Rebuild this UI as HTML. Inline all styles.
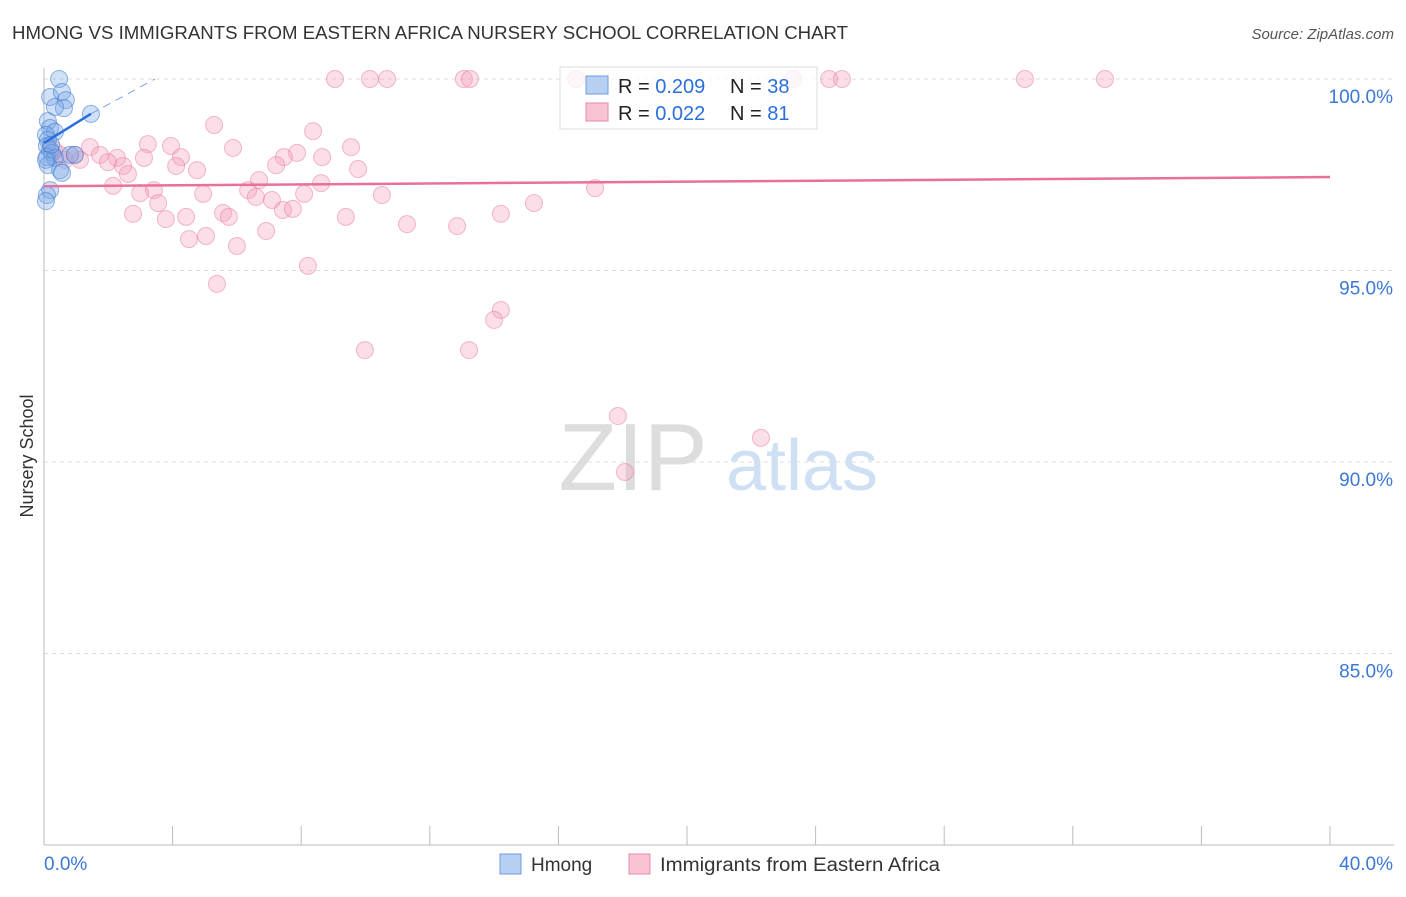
<!DOCTYPE html>
<html><head><meta charset="utf-8"><style>
body{margin:0;background:#fff;font-family:"Liberation Sans",sans-serif}
svg text{font-family:"Liberation Sans",sans-serif}
</style></head><body>
<svg id="c" width="1406" height="892">
<text x="12" y="39" font-size="18" fill="#333" textLength="836" lengthAdjust="spacingAndGlyphs">HMONG VS IMMIGRANTS FROM EASTERN AFRICA NURSERY SCHOOL CORRELATION CHART</text>
<text x="1394" y="39" font-size="15" fill="#555" text-anchor="end" font-style="italic">Source: ZipAtlas.com</text>
<text transform="translate(33,456) rotate(-90)" font-size="18" fill="#333" text-anchor="middle">Nursery School</text>
<g><text x="633" y="490" font-size="96" fill="#ddd" font-family="Liberation Serif" text-anchor="middle">ZIP</text><text x="802" y="490" font-size="72" fill="#cfe0f4" text-anchor="middle">atlas</text></g>
<g id="grid"></g><g id="axes"></g><g id="pts"></g><g id="trend"></g>
<g>
<rect x="560" y="67" width="257" height="62" fill="rgba(255,255,255,0.75)" stroke="#ddd"/>
<rect x="586" y="76" width="22" height="18" fill="#b7d0f2" stroke="#6d9be0"/>
<rect x="586" y="103" width="22" height="18" fill="#f8c3d2" stroke="#e88aa8"/>
<text x="618" y="93" font-size="20" fill="#222">R = <tspan fill="#2a6fdb">0.209</tspan></text>
<text x="730" y="93" font-size="20" fill="#222">N = <tspan fill="#2a6fdb">38</tspan></text>
<text x="618" y="120" font-size="20" fill="#222">R = <tspan fill="#2a6fdb">0.022</tspan></text>
<text x="730" y="120" font-size="20" fill="#222">N = <tspan fill="#2a6fdb">81</tspan></text>
</g>
<g>
<rect x="500" y="854" width="21" height="20" fill="#b7d0f2" stroke="#6d9be0"/>
<text x="531" y="871" font-size="19" fill="#333">Hmong</text>
<rect x="629" y="854" width="21" height="20" fill="#f8c3d2" stroke="#e88aa8"/>
<text x="660" y="871" font-size="19" fill="#333" textLength="280" lengthAdjust="spacingAndGlyphs">Immigrants from Eastern Africa</text>
</g>
</svg>
<script>
const yTicks=[100,95,90,85];
const xTickLabels=["0.0%","40.0%"];
const pinkX=[9.05,10.14,10.67,13.06,13.25,16.55,23.3,24.42,24.82,30.51,33.0,5.29,8.37,3.23,3.95,5.88,9.55,1.43,1.74,2.27,3.11,4.26,7.87,7.46,8.65,0.31,0.5,0.65,0.96,1.12,1.99,2.46,4.11,4.76,7.22,9.77,2.61,6.69,8.62,2.15,3.42,2.99,4.95,6.35,8.09,10.51,17.14,6.59,7.09,3.55,2.77,3.79,4.42,5.57,5.75,7.43,7.74,9.39,14.21,15.24,11.29,12.85,6.91,5.04,4.51,6.0,8.21,5.38,14.21,14.0,9.98,13.22,17.85,22.3,18.07];
const pinkY=[100,100,100,100,100,100,100,100,100,100,100,98.8,98.64,98.3,98.25,98.2,98.22,98.22,98.02,97.94,97.94,97.96,98.07,97.96,97.96,98.15,98.02,97.89,98.02,97.89,97.83,97.73,97.73,97.62,97.75,97.65,97.52,97.36,97.28,97.21,97.1,97.02,97.0,97.1,97.0,96.97,97.15,96.92,96.84,96.76,96.48,96.34,96.4,96.5,96.4,96.58,96.61,96.4,96.48,96.76,96.21,96.16,96.03,95.9,95.82,95.64,95.12,94.65,93.97,93.71,92.92,92.92,91.2,90.63,89.74];
const blueX=[0.47,0.19,0.56,0.68,0.62,0.34,1.46,0.12,0.19,0.34,0.06,0.12,0.09,0.19,0.25,0.09,0.34,0.81,0.96,0.12,0.5,0.56,0.19,0.09,0.06,0.22,0.06];
const blueY=[100,99.53,99.66,99.45,99.24,99.27,99.09,98.9,98.72,98.62,98.54,98.41,98.25,98.15,98.07,97.96,97.94,98.02,98.02,97.75,97.62,97.55,97.1,96.97,96.81,98.28,97.89];
const pinkTrend=[[0,97.2],[40,97.44]];
const blueTrend=[[0,98.33],[1.46,99.09]];
const blueDash=[[1.46,99.09],[3.45,100]];
const X=v=>44+v/40*1286, Y=v=>79+(100-v)*38.3;
const NS="http://www.w3.org/2000/svg";
function mk(p,t,a){const e=document.createElementNS(NS,t);for(const k in a)e.setAttribute(k,a[k]);p.appendChild(e);return e;}
const grid=document.getElementById('grid'),axes=document.getElementById('axes'),pts=document.getElementById('pts'),tr=document.getElementById('trend');
yTicks.forEach(v=>{const l=mk(grid,'line',{x1:44,x2:1394,y1:Y(v),y2:Y(v),stroke:'#ddd','stroke-dasharray':'4,4'});


const t=mk(axes,'text',{x:1393,y:Y(v)+24,'font-size':19,fill:'#3a78d6','text-anchor':'end'});t.textContent=v.toFixed(1)+'%';

});
const ax=mk(axes,'line',{x1:44,x2:44,y1:68,y2:845,stroke:'#bbb'});


const bx=mk(axes,'line',{x1:44,x2:1394,y1:845,y2:845,stroke:'#bbb'});


for(let i=0;i<=10;i++){const t=mk(axes,'line',{x1:X(i*4),x2:X(i*4),y1:826,y2:845,stroke:'#bbb'});

}
const l0=mk(axes,'text',{x:44,y:870,'font-size':19,fill:'#3a78d6'});l0.textContent=xTickLabels[0];


const l1=mk(axes,'text',{x:1393,y:870,'font-size':19,fill:'#3a78d6','text-anchor':'end'});l1.textContent=xTickLabels[1];


pinkX.forEach((x,i)=>{const c=mk(pts,'circle',{cx:X(x),cy:Y(pinkY[i]),r:8.5,fill:'rgba(244,160,188,0.35)',stroke:'rgba(232,120,158,0.5)'});

});
blueX.forEach((x,i)=>{const c=mk(pts,'circle',{cx:X(x),cy:Y(blueY[i]),r:8.5,fill:'rgba(120,165,230,0.35)',stroke:'rgba(60,120,210,0.55)'});

});
const pt=mk(tr,'line',{x1:X(pinkTrend[0][0]),y1:Y(pinkTrend[0][1]),x2:X(pinkTrend[1][0]),y2:Y(pinkTrend[1][1]),stroke:'#e8709a','stroke-width':2.5});


const bt=mk(tr,'line',{x1:X(blueTrend[0][0]),y1:Y(blueTrend[0][1]),x2:X(blueTrend[1][0]),y2:Y(blueTrend[1][1]),stroke:'#2a6fdb','stroke-width':2.5});


const bd=mk(tr,'line',{x1:X(blueDash[0][0]),y1:Y(blueDash[0][1]),x2:X(blueDash[1][0]),y2:Y(blueDash[1][1]),stroke:'#7aa5e6','stroke-width':1,'stroke-dasharray':'8,6'});


</script>
</body></html>
